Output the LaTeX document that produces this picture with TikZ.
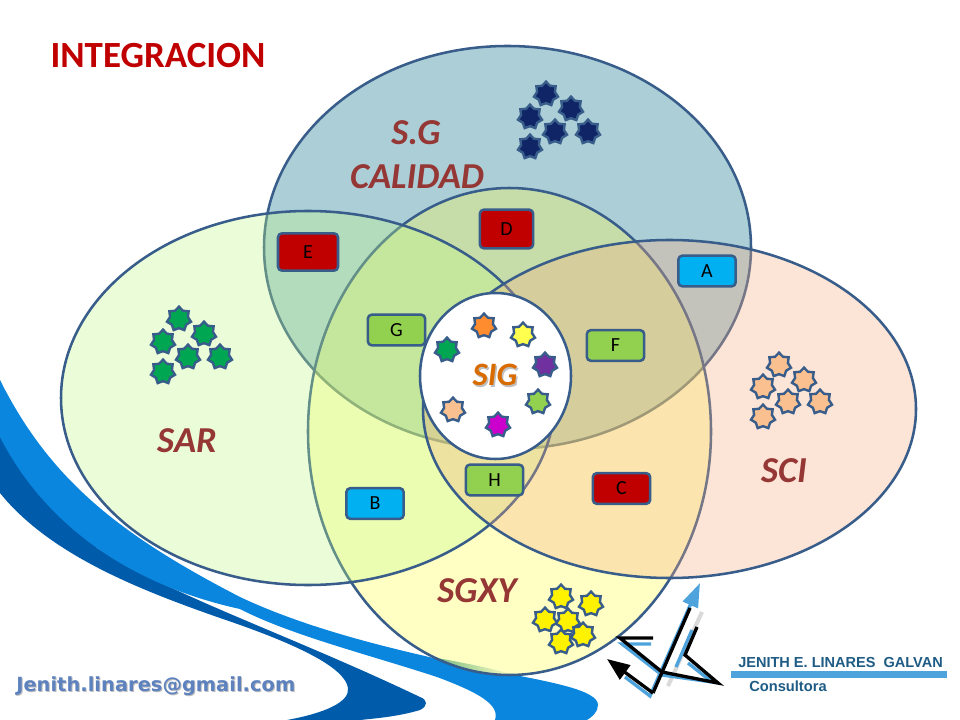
\documentclass[tikz,border=0pt]{standalone}
\usepackage{fontspec}
\setmainfont{Carlito}
\newfontfamily\mailfont{DejaVu Sans}
\newfontfamily\logofont{Liberation Sans}
\usetikzlibrary{shapes.geometric,arrows.meta}
\definecolor{edgeblue}{HTML}{385D8A}
\definecolor{titlered}{HTML}{C00000}
\definecolor{setred}{HTML}{953735}
\definecolor{swlight}{HTML}{0A86DE}
\definecolor{swdark}{HTML}{005BAA}
\definecolor{keygreen}{HTML}{92D050}
\definecolor{keycyan}{HTML}{00B0F0}
\definecolor{navy}{HTML}{0F2566}
\definecolor{stargreen}{HTML}{00A651}
\definecolor{starpeach}{HTML}{FAC090}
\definecolor{logoblue}{HTML}{4FA3DC}
\definecolor{logotext}{HTML}{1F5C85}
\definecolor{mailblue}{HTML}{5D82BE}
\begin{document}
\begin{tikzpicture}[x=0.75pt, y=-0.75pt,
    setedge/.style = {draw=edgeblue, line width=1.9pt, fill opacity=0.32, draw opacity=1},
    setlabel/.style = {text=setred, font=\fontsize{27.4}{29}\selectfont\bfseries\itshape},
    keybox/.style = {draw=edgeblue, line width=1.9pt, rounded corners=3pt, minimum width=43pt, minimum height=23pt, inner sep=0pt, font=\fontsize{15}{17}\selectfont},
    keyred/.style = {keybox, fill=titlered},
    keylime/.style = {keybox, fill=keygreen},
    keysky/.style = {keybox, fill=keycyan},
    starmark/.style = {star, star points=7, star point ratio=1.35, minimum size=18.5pt, inner sep=0pt, draw=edgeblue, line width=1.8pt},
    logoblack/.style = {draw=black, line width=2.5pt},
    logoshade/.style = {draw=logoblue, line width=2.5pt}]
    \useasboundingbox (0,0) rectangle (960,720);
    \fill[white] (0,0) rectangle (960,720);

    \fill[swdark] (0,430) -- (97,548) .. controls (170,595) and (290,635) .. (420,697)
        .. controls (428,700) and (428,706) .. (420,710) .. controls (400,716) and (380,718) .. (360,720) -- (287,720)
        .. controls (325,713) and (350,702) .. (348,688) .. controls (345,668) and (300,645) .. (220,618)
        .. controls (140,590) and (50,555) .. (0,493) -- cycle;
    \fill[swlight] (0,380) .. controls (50,480) and (120,535) .. (240,597) .. controls (310,630) and (400,652) .. (500,672)
        .. controls (550,682) and (598,690) .. (598,705) .. controls (598,712) and (592,717) .. (587,720) -- (495,720)
        .. controls (500,705) and (480,693) .. (437,677) .. controls (370,655) and (290,635) .. (240,609)
        .. controls (130,585) and (45,525) .. (0,437) -- cycle;

    \fill[white] (509.5,431.5) ellipse [x radius=201.5, y radius=243.5];
    \begin{scope}
        \clip (509.5,431.5) ellipse [x radius=201.5, y radius=243.5];
        \shade[left color=teal!75!white, right color=white] (437,658) .. controls (460,662) and (490,668) .. (515,675) -- (515,680) -- (437,680) -- cycle;
    \end{scope}

    \path[setedge, fill={rgb,255:red,49;green,133;blue,156}, fill opacity=0.4] (507.5,247.5) ellipse [x radius=243.5, y radius=201.5];
    \path[setedge, fill={rgb,255:red,255;green,255;blue,72}] (509.5,431.5) ellipse [x radius=201.5, y radius=243.5];
    \path[setedge, fill={rgb,255:red,193;green,250;blue,134}] (308,398) ellipse [x radius=247, y radius=187];
    \path[setedge, fill={rgb,255:red,247;green,172;blue,128}] (669.5,409) ellipse [x radius=246.5, y radius=169];
    \path[draw=edgeblue, line width=1.9pt, fill=white] (495.5,376) ellipse [x radius=75.5, y radius=83];

    \node[text=titlered, font=\fontsize{27.7}{30}\selectfont\bfseries] (title) at (158,56) {INTEGRACION};
    \node[setlabel] (sglabel) at (416,133) {S.G};
    \node[setlabel] (calidad) at (417,177) {CALIDAD};
    \node[setlabel] (sar) at (187,441) {SAR};
    \node[setlabel] (sci) at (784,471) {SCI};
    \node[setlabel] (sgxy) at (477,591) {SGXY};
    \node[text=black!25, font=\fontsize{24.5}{26}\selectfont\bfseries\itshape] (sigshade) at (496.5,376.5) {SIG};
    \node[text=orange!85!black, font=\fontsize{24.5}{26}\selectfont\bfseries\itshape] (sig) at (495,375) {SIG};

    \node[keyred, minimum width=45pt, minimum height=28pt] (keyE) at (308,252) {E};
    \node[keyred, minimum width=40pt, minimum height=29pt] (keyD) at (506.5,229) {D};
    \node[keyred] (keyC) at (621.5,488.5) {C};
    \node[keylime] (keyG) at (396.5,330) {G};
    \node[keylime] (keyF) at (615.5,345.5) {F};
    \node[keylime] (keyH) at (494.5,480) {H};
    \node[keysky] (keyA) at (707,271) {A};
    \node[keysky] (keyB) at (375,503.5) {B};

    \node[starmark, fill=navy] (sg1) at (546,94) {};
    \node[starmark, fill=navy] (sg2) at (571,109) {};
    \node[starmark, fill=navy] (sg3) at (530,117) {};
    \node[starmark, fill=navy] (sg4) at (555,132) {};
    \node[starmark, fill=navy] (sg5) at (588,132) {};
    \node[starmark, fill=navy] (sg6) at (530,147) {};
    \node[starmark, fill=stargreen] (sar1) at (179,319) {};
    \node[starmark, fill=stargreen] (sar2) at (204,334) {};
    \node[starmark, fill=stargreen] (sar3) at (163,342) {};
    \node[starmark, fill=stargreen] (sar4) at (188,357) {};
    \node[starmark, fill=stargreen] (sar5) at (220,357) {};
    \node[starmark, fill=stargreen] (sar6) at (163,372) {};
    \node[starmark, fill=starpeach] (sci1) at (779,365) {};
    \node[starmark, fill=starpeach] (sci2) at (804,380) {};
    \node[starmark, fill=starpeach] (sci3) at (763,387) {};
    \node[starmark, fill=starpeach] (sci4) at (788,402) {};
    \node[starmark, fill=starpeach] (sci5) at (820,402) {};
    \node[starmark, fill=starpeach] (sci6) at (763,417) {};
    \node[starmark, fill=yellow] (xy1) at (561,597) {};
    \node[starmark, fill=yellow] (xy2) at (591,604) {};
    \node[starmark, fill=yellow] (xy3) at (545,620) {};
    \node[starmark, fill=yellow] (xy4) at (568,621) {};
    \node[starmark, fill=yellow] (xy5) at (583,635) {};
    \node[starmark, fill=yellow] (xy6) at (561,642) {};
    \node[starmark, fill={rgb,255:red,255;green,140;blue,46}] (sig1) at (484,326) {};
    \node[starmark, fill={rgb,255:red,255;green,255;blue,77}] (sig2) at (523,335) {};
    \node[starmark, fill=stargreen] (sig3) at (447,350) {};
    \node[starmark, fill={rgb,255:red,112;green,48;blue,160}] (sig4) at (545,365) {};
    \node[starmark, fill=keygreen] (sig5) at (538,402) {};
    \node[starmark, fill=starpeach] (sig6) at (453,410) {};
    \node[starmark, fill={rgb,255:red,204;green,0;blue,204}] (sig7) at (498,425) {};

    \draw[black!15, line width=3pt] (702,612) -- (668,686);
    \draw[logoshade, -{Triangle[length=18pt,width=12pt]}] (625,677) -- (650,696) -- (700,583);
    \draw[logoshade] (651,644) -- (622,644) -- (662,675) -- (712,682) -- (688,663);
    \draw[logoshade] (676,667) -- (692,630);
    \draw[logoblack, -{Triangle[length=17pt,width=13pt]}] (653,693) -- (607,659);
    \draw[logoblack] (653,693) -- (690,608);
    \draw[logoblack] (653,638) -- (620,638) -- (662,672) -- (718,683) -- (685,655) -- (697,627);

    \fill[logoblue] (731,670.5) rectangle (947,677.5);
    \node[anchor=west, inner sep=0pt, text=logotext, font=\logofont\fontsize{10.9}{12}\selectfont\bfseries] (firm) at (738,662) {JENITH E. LINARES\ \ GALVAN};
    \node[anchor=west, inner sep=0pt, text=logotext, font=\logofont\fontsize{11}{12}\selectfont\bfseries] (consult) at (749,686) {Consultora};
    \node[anchor=west, inner sep=0pt, text=black!25, font=\mailfont\fontsize{14.6}{16}\selectfont\bfseries] (mailshade) at (17,687) {Jenith.linares@gmail.com};
    \node[anchor=west, inner sep=0pt, text=mailblue, font=\mailfont\fontsize{14.6}{16}\selectfont\bfseries] (mail) at (16,686) {Jenith.linares@gmail.com};
\end{tikzpicture}
\end{document}
